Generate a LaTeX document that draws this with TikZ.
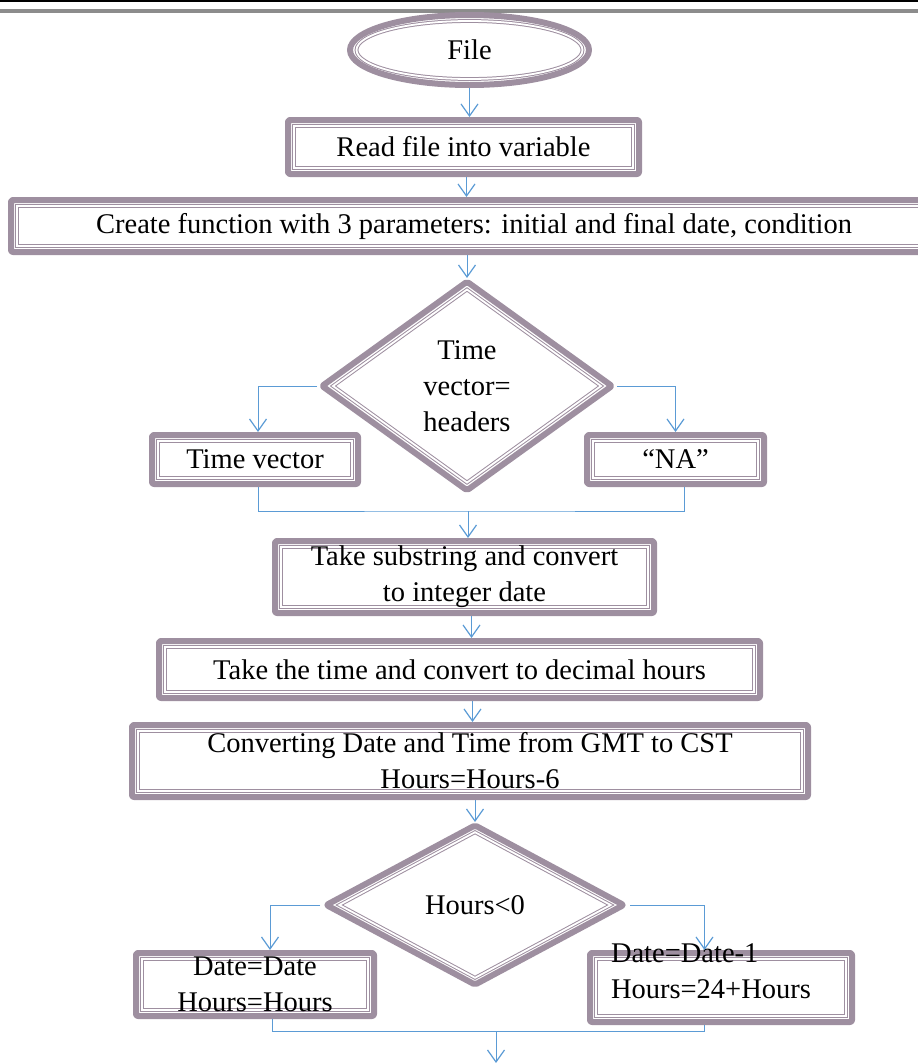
\documentclass[tikz,border=0pt]{standalone}
\usepackage{fontspec}
\setmainfont{Liberation Serif}
\usetikzlibrary{arrows.meta,shapes.geometric,calc}
\definecolor{boxc}{RGB}{158,143,160}
\definecolor{arrc}{RGB}{91,155,213}
\definecolor{hdrc}{RGB}{140,140,140}
\tikzset{
  lbl/.style={font=\fontsize{28.5}{36}\selectfont, align=center, inner sep=0pt, outer sep=0pt},
  conn/.style={draw=arrc, line width=1pt},
  arr/.style={conn, -{Straight Barb[length=12pt,width=17pt,line width=1.2pt]}},
  thickb/.style={draw=boxc, line width=6pt, rounded corners=2pt, line join=round},
  thinb/.style={draw=boxc, line width=1pt, double=white, double distance=1.8pt},
}
% name, x1, y1, x2, y2, text
\newcommand\flowbox[6]{%
  \node[rectangle, inner sep=0pt, outer sep=0pt, minimum width={#4-#2}, minimum height={#5-#3}] (#1) at ({(#2+#4)/2},{(#3+#5)/2}) {};
  \draw[thickb] ([shift={(3pt,-3pt)}]#1.north west) rectangle ([shift={(-3pt,3pt)}]#1.south east);
  \draw[thinb] ([shift={(9pt,-9pt)}]#1.north west) rectangle ([shift={(-9pt,9pt)}]#1.south east);
  \node[lbl] (#1-t) at (#1.center) {#6};
}
% name, cx, cy, a, b, dx1, dy1, dx2, dy2
\newcommand\flowdiamond[9]{%
  \node[diamond, inner sep=0pt, outer sep=0pt, minimum width={2*#4}, minimum height={2*#5}] (#1) at (#2,#3) {};
  \draw[thickb] ([xshift=#6pt]#1.west) -- ([yshift=-#7pt]#1.north) -- ([xshift=-#6pt]#1.east) -- ([yshift=#7pt]#1.south) -- cycle;
  \draw[thinb] ([xshift=#8pt]#1.west) -- ([yshift=-#9pt]#1.north) -- ([xshift=-#8pt]#1.east) -- ([yshift=#9pt]#1.south) -- cycle;
}
\begin{document}
\begin{tikzpicture}[x=1pt,y=-1pt]
\clip (0,0) rectangle (918,1063);
% header rules
\draw[black, line width=2.2pt] (0,1) -- (918,1);
\draw[hdrc, line width=3.5pt] (0,11) -- (918,11);

% File ellipse
\node[ellipse, inner sep=0pt, outer sep=0pt, minimum width=245pt, minimum height=76pt] (file) at (469.5,50) {};
\draw[thickb] (file.center) ellipse [x radius=119.5pt, y radius=35pt];
\draw[thinb] (file.center) ellipse [x radius=113pt, y radius=29pt];
\node[lbl] (file-t) at (file.center) {File};

\flowbox{b2}{285}{117}{642}{177}{Read file into variable}
\flowbox{b3}{8}{197}{940}{255}{Create function with 3 parameters: initial and final date, condition}

\flowdiamond{d1}{467}{386}{150}{108}{5.1}{3.7}{16}{11.5}
\node[lbl] (d1-t) at (d1.center) {Time\\vector=\\headers};

\flowbox{tv}{149}{432}{361}{487}{Time vector}
\flowbox{na}{584}{432}{767}{487}{“NA”}
\flowbox{sub}{272}{538}{657}{616}{Take substring and convert\\to integer date}
\flowbox{tim}{156}{638}{763}{701}{Take the time and convert to decimal hours}
\flowbox{conv}{129}{722}{811}{800}{Converting Date and Time from GMT to CST\\Hours=Hours-6}

\flowdiamond{d2}{475}{905}{155}{83}{6.4}{3.4}{19.3}{10.2}
\node[lbl] (d2-t) at (d2.center) {Hours<0};

\flowbox{lb}{133}{950}{377}{1019}{Date=Date\\Hours=Hours}
\flowbox{rb}{587}{950}{855}{1025}{}
\node[lbl, align=left, anchor=west] (rb-t) at (611,971) {Date=Date-1\\Hours=24+Hours};

% connectors
\draw[arr] (file.south) -- (file.south |- b2.north);
\draw[arr] ([xshift=3pt]b2.south) -- ([xshift=3pt]b2.south |- b3.north);
\draw[arr] (d1.north |- b3.south) -- (d1.north);
\draw[arr] (d1.west) -| ([xshift=3pt]tv.north);
\draw[arr] (d1.east) -| (na.north);
\coordinate (m1) at (468,511);
\draw[conn] ([xshift=3pt]tv.south) |- (m1) -| ([xshift=9pt]na.south);
\draw[arr] (m1) -- (m1 |- sub.north);
\draw[arr] ([xshift=7pt]sub.south) -- ([xshift=7pt]sub.south |- tim.north);
\draw[arr] ([xshift=13pt]tim.south) -- ([xshift=13pt]tim.south |- conv.north);
\draw[arr] (d2.north |- conv.south) -- (d2.north);
\draw[arr] (d2.west) -| ([xshift=15pt]lb.north);
\draw[arr] (d2.east) -| ([xshift=-16.5pt]rb.north);
\coordinate (m2) at (496,1031);
\coordinate (end) at (496,1063);
\draw[conn] ([xshift=17pt]lb.south) |- (m2) -| ([xshift=-16.5pt]rb.south);
\draw[arr] (m2) -- (end);
\end{tikzpicture}
\end{document}
